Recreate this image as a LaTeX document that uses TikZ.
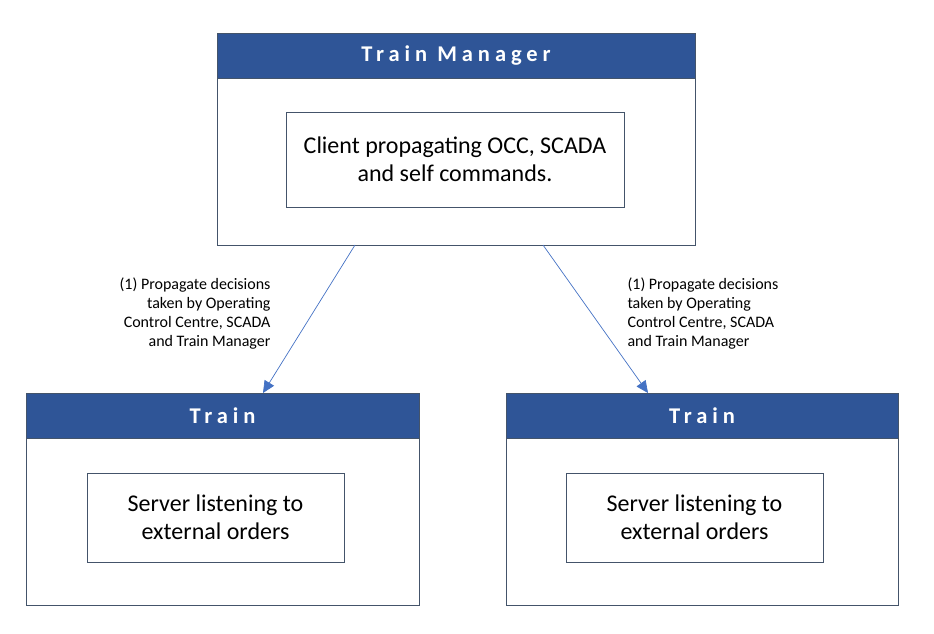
\documentclass[tikz,border=0pt]{standalone}
\usepackage{fontspec}
\setmainfont{Carlito}
\usetikzlibrary{arrows.meta}
\definecolor{hdrblue}{HTML}{2F5597}
\definecolor{edge}{HTML}{44546A}
\definecolor{arr}{HTML}{4472C4}
\tikzset{
  outerbox/.style={draw=edge, line width=0.9pt},
  hdr/.style={fill=hdrblue, draw=edge, line width=0.9pt},
  hdrtext/.style={text=white, font=\fontsize{22.5}{24}\selectfont\bfseries\addfontfeature{LetterSpace=22}},
  innerbox/.style={draw=edge, line width=0.7pt, minimum height=0pt},
  innertext/.style={align=center, font=\fontsize{24}{28}\selectfont, text=black},
  lbl/.style={font=\fontsize{16}{19}\selectfont, text=black},
  conn/.style={draw=arr, line width=0.7pt, -{Triangle[length=12pt,width=11pt]}},
}
\begin{document}
\begin{tikzpicture}[x=1pt,y=-1pt]
\useasboundingbox (0,0) rectangle (934,634);
% top box
\draw[outerbox] (217,33) rectangle (695,245);
\draw[hdr] (217,33) rectangle (695,78);
\node[hdrtext] (tmt) at (456,56) {Train Manager};
\draw[innerbox] (286,112) rectangle (624,207);
\node[innertext] (tmi) at (455,159.5) {Client propagating OCC, SCADA\\and self commands.};
% left train
\draw[outerbox] (26,393) rectangle (419,605);
\draw[hdr] (26,393) rectangle (419,438);
\node[hdrtext] (lt) at (222.5,416) {Train};
\draw[innerbox] (87,473) rectangle (344,562);
\node[innertext] (li) at (215.5,517.5) {Server listening to\\external orders};
% right train
\draw[outerbox] (506,393) rectangle (898,605);
\draw[hdr] (506,393) rectangle (898,438);
\node[hdrtext] (rt) at (702,416) {Train};
\draw[innerbox] (566,473) rectangle (823,562);
\node[innertext] (ri) at (694.5,517.5) {Server listening to\\external orders};
% connectors
\coordinate (a1) at (355,245);
\coordinate (b1) at (263,393);
\coordinate (a2) at (543,245);
\coordinate (b2) at (648,393);
\draw[conn] (a1) -- (b1);
\draw[conn] (a2) -- (b2);
\node[lbl, align=right, anchor=north east] (l1) at (274,274) {(1) Propagate decisions\\taken by Operating\\Control Centre, SCADA\\and Train Manager};
\node[lbl, align=left, anchor=north west] (l2) at (624,274) {(1) Propagate decisions\\taken by Operating\\Control Centre, SCADA\\and Train Manager};
\end{tikzpicture}
\end{document}
